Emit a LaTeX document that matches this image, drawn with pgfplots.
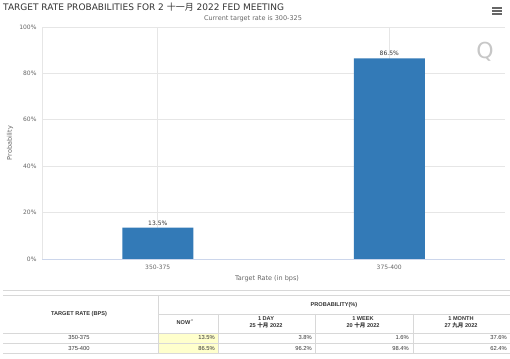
\documentclass[border=0pt]{standalone}
\usepackage{fontspec}
\setmainfont{DejaVu Sans}
\newfontfamily\tabfont{Liberation Sans}
\newfontfamily\cjk{Noto Sans CJK SC}
\usepackage{pgfplots}
\pgfplotsset{compat=1.18}
\definecolor{barblue}{HTML}{337AB7}
\definecolor{titlegray}{HTML}{333333}
\definecolor{labelgray}{HTML}{666666}
\definecolor{gridgray}{HTML}{E6E6E6}
\definecolor{axisgray}{HTML}{CCD6EB}
\definecolor{tabline}{HTML}{D8D8D8}
\definecolor{nowyellow}{HTML}{FFFFCC}
\begin{document}
\begin{tikzpicture}[x=1pt,y=1pt]
\useasboundingbox (0,0) rectangle (510,358);
\begin{axis}[
  at={(42pt,99pt)}, anchor=south west,
  scale only axis, width=463pt, height=232pt,
  xmin=-0.5, xmax=1.5, ymin=0, ymax=100,
  ybar, bar width=71pt,
  xtick={0,1}, xticklabels={350-375,375-400},
  ytick={0,20,40,60,80,100},
  yticklabel={\pgfmathprintnumber{\tick}\%},
  /pgf/number format/assume math mode=true,
  major tick length=0pt,
  xmajorgrids, ymajorgrids,
  grid style={gridgray, line width=0.6pt},
  axis x line*=bottom, axis y line*=left,
  x axis line style={axisgray, line width=0.6pt, -},
  y axis line style={gridgray, line width=0.6pt, -},
  ticklabel style={font=\fontsize{6}{7}\selectfont, text=labelgray},
  xticklabel style={yshift=-3pt},
  yticklabel style={xshift=-2pt},
  xlabel={Target Rate (in bps)},
  ylabel={Probability},
  label style={font=\fontsize{6.5}{8}\selectfont, text=labelgray},
  xlabel style={at={(axis description cs:0.486,-0.086)}, anchor=center},
  ylabel style={at={(axis description cs:-0.069,0.5)}, anchor=center, rotate=0},
  nodes near coords={\pgfmathprintnumber[fixed,precision=1,fixed zerofill]{\pgfplotspointmeta}\%},
  nodes near coords style={font=\fontsize{6}{7}\selectfont, text=titlegray, yshift=-1pt},
]
\addplot[fill=barblue, draw=none] coordinates {(0,13.5) (1,86.5)};
\end{axis}
% title, subtitle, watermark, menu icon
\node[anchor=west, font=\fontsize{9}{11}\selectfont, text=titlegray, inner sep=0pt] at (3,351) {TARGET RATE PROBABILITIES FOR 2 {\cjk 十一月} 2022 FED MEETING};
\node[font=\fontsize{6.5}{8}\selectfont, text=labelgray, inner sep=0pt] at (253,339) {Current target rate is 300-325};
\node[font=\fontsize{22}{24}\selectfont, text=black!22, inner sep=0pt] at (485,306) {Q};
\foreach \yy in {347,344,350} \draw[labelgray, line width=1.3pt] (492,\yy) -- (502,\yy);
% table
\fill[nowyellow] (158,25) rectangle (218,5);
\begin{scope}[tabline, line width=0.5pt]
\draw (3,68) -- (510,68);
\draw (3,63) -- (510,63);
\draw (158,44) -- (510,44);
\draw (3,25) -- (510,25);
\draw (3,15) -- (510,15);
\draw (3,5) -- (510,5);
\draw (158,63) -- (158,5);
\foreach \xx in {218,315,413} \draw (\xx,44) -- (\xx,5);
\end{scope}
\begin{scope}[font=\tabfont\fontsize{5.6}{6.5}\selectfont\bfseries, text=titlegray, inner sep=0pt, align=center]
\node at (79,44) {TARGET RATE (BPS)};
\node at (334,53) {PROBABILITY(\%)};
\node at (185,36) {NOW\,\textsuperscript{*}};
\node at (266,36) {1 DAY\\[0.5pt]25 {\cjk 十月} 2022};
\node at (363,36) {1 WEEK\\[0.5pt]20 {\cjk 十月} 2022};
\node at (461,36) {1 MONTH\\[0.5pt]27 {\cjk 九月} 2022};
\end{scope}
\begin{scope}[font=\tabfont\fontsize{5.8}{6.5}\selectfont, text=titlegray, inner sep=0pt]
\node at (79,20) {350-375};
\node at (79,9.5) {375-400};
\node[anchor=east] at (215,20) {13.5\%};
\node[anchor=east] at (312,20) {3.8\%};
\node[anchor=east] at (409,20) {1.6\%};
\node[anchor=east] at (507,20) {37.6\%};
\node[anchor=east] at (215,9.5) {86.5\%};
\node[anchor=east] at (312,9.5) {96.2\%};
\node[anchor=east] at (409,9.5) {98.4\%};
\node[anchor=east] at (507,9.5) {62.4\%};
\end{scope}
\end{tikzpicture}
\end{document}
